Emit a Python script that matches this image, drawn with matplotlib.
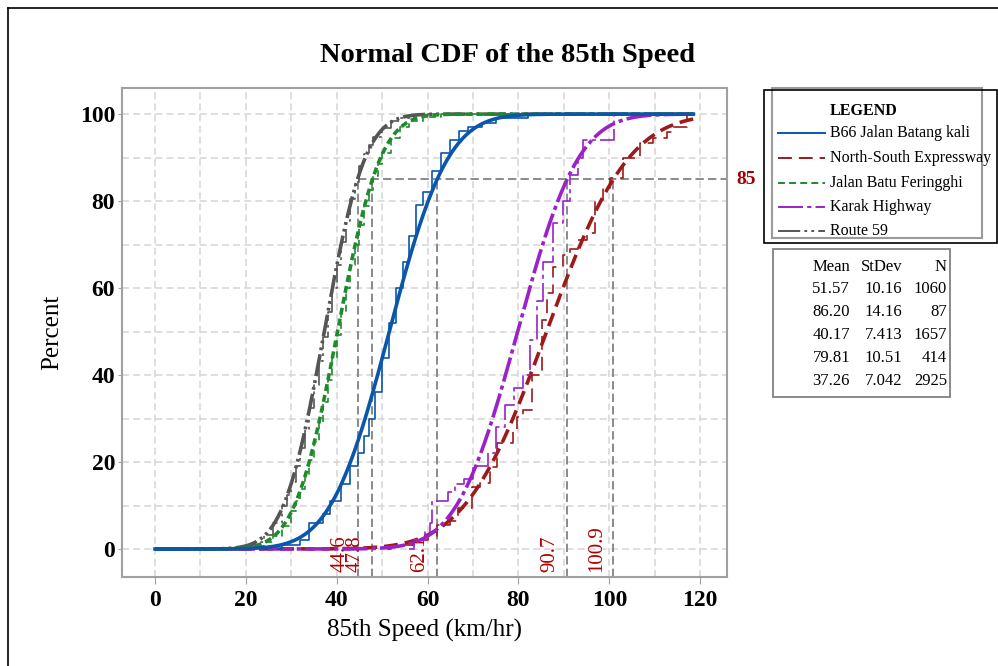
import math
import numpy as np
import matplotlib
matplotlib.use("Agg")
import matplotlib.pyplot as plt
from matplotlib.lines import Line2D
from matplotlib.patches import Rectangle

plt.rcParams['font.family'] = ['Liberation Serif', 'DejaVu Serif']
plt.rcParams['lines.scale_dashes'] = False

# summary table of the fitted normal distributions
roads = ["B66 Jalan Batang kali", "North-South Expressway", "Jalan Batu Feringghi",
         "Karak Highway", "Route 59"]
means = [51.57, 86.20, 40.17, 79.81, 37.26]
stdevs = [10.16, 14.16, 7.413, 10.51, 7.042]
counts = [1060, 87, 1657, 414, 2925]
p85 = [62.1, 100.9, 47.8, 90.7, 44.6]
p85_labels = ["62.1", "100.9", "47.8", "90.7", "44.6"]

emp_b66_x = [28, 32, 34, 37, 38.5, 41, 43, 44.7, 46, 47, 48.5, 50, 51.5, 53, 54.5,
             56, 57.5, 59, 61, 63, 65, 67, 69, 72, 75, 82]
emp_b66_y = [1, 2, 6, 8, 11, 15, 19, 22, 26, 30, 36, 44, 52, 60, 66,
             72, 79, 82, 87, 91, 94, 96, 97, 98, 99, 100]
emp_nse_x = [52, 57, 60, 62, 65, 66.7, 69.8, 71.6, 73.8, 75.3, 78.9, 79.7, 81, 83,
             85.2, 86.3, 87.6, 89.8, 91.3, 93, 95.1, 96.9, 98.6, 100.2, 103, 106.8,
             109.6, 112.7, 114, 117]
emp_nse_y = [1, 2, 3, 5.5, 6.5, 9.4, 14.3, 15.2, 18.9, 24.4, 27.4, 30.3, 32, 40,
             52.6, 58.9, 64.9, 67.6, 69, 71, 72.6, 80.2, 83, 85.3, 89.9, 93.3,
             94.5, 95.9, 97, 100]
emp_jbf_x = [22, 24, 26, 28, 30, 31, 32, 33, 34, 35, 36, 37, 38, 39, 40, 41, 42,
             43, 44, 45, 46, 47, 48, 49, 50, 52, 54, 56, 59, 63]
emp_jbf_y = [0.7, 1.6, 3.0, 5.3, 8.8, 11.0, 13.8, 17.0, 20.5, 24.6, 28.9, 33.8,
             38.8, 44.0, 49.3, 54.8, 60.0, 65.2, 70.0, 74.6, 78.8, 82.6, 85.8,
             88.6, 91.0, 94.6, 97.0, 98.5, 99.4, 100]
emp_karak_x = [57, 59.5, 60.5, 61, 64.5, 66, 68, 70, 73.3, 75, 77, 79, 81, 82.5,
               84, 85.5, 87.5, 89.9, 91.4, 93, 94.2, 101]
emp_karak_y = [2, 4, 6, 11, 13, 15, 16, 19, 22, 28, 33, 37, 40, 48,
               57, 66, 75, 80, 86, 90, 94, 100]
emp_r59_x = [20, 22, 24, 26, 28, 29, 30, 31, 32, 33, 34, 35, 36, 37, 38, 39, 40,
             41, 42, 43, 44, 45, 46, 47, 48, 50, 52, 54, 57, 60]
emp_r59_y = [0.8, 1.7, 3.3, 5.9, 9.8, 12.4, 15.4, 19.0, 23.2, 27.6, 32.5, 37.8,
             43.2, 48.8, 54.5, 60.0, 65.4, 70.6, 75.4, 80.5, 84.5, 88.0, 90.8,
             93.0, 94.8, 96.9, 98.4, 99.2, 99.7, 100]

emp_x = [emp_b66_x, emp_nse_x, emp_jbf_x, emp_karak_x, emp_r59_x]
emp_y = [emp_b66_y, emp_nse_y, emp_jbf_y, emp_karak_y, emp_r59_y]

colors = ["#0a56ab", "#9c1a1a", "#1f8a2c", "#9a22c6", "#555555"]
styles = ["-", (0, (10, 5)), (0, (5, 3)), (0, (18, 3, 3, 3)), (0, (16, 3, 2, 3, 2, 3))]

W, H = 998, 666
fig = plt.figure(figsize=(W / 100, H / 100), dpi=100)


def fx(px):
    return px / W


def fy(py):
    return 1 - py / H


ax = fig.add_axes([fx(122), fy(577), fx(727) - fx(122), fy(88) - fy(577)])
ax.set_xlim(-7.27, 125.9)
ax.set_ylim(-6.44, 106.0)

ax.set_xticks(range(0, 121, 20))
ax.set_yticks(range(0, 101, 20))
ax.set_xticks(range(0, 121, 10), minor=True)
ax.set_yticks(range(0, 101, 10), minor=True)
ax.grid(True, which='both', color='#d4d4d4', linestyle=(0, (5, 3)), linewidth=1.1)
ax.set_axisbelow(True)
for s in ax.spines.values():
    s.set_color('#a0a0a0')
    s.set_linewidth(1.5)
ax.tick_params(which='major', direction='out', length=5, color='#a0a0a0',
               labelsize=17, pad=4)
ax.tick_params(axis='y', which='major', length=3, pad=2)
ax.tick_params(which='minor', length=0)
for lab in ax.get_xticklabels() + ax.get_yticklabels():
    lab.set_fontweight('bold')

# 85th percentile reference lines
ax.plot([min(p85), 125.9], [85, 85], color='#8a8a8a', lw=1.4, linestyle=(0, (6, 3)))
for v, lab in zip(p85, p85_labels):
    ax.plot([v, v], [-6.44, 85], color='#8a8a8a', lw=1.4, linestyle=(0, (6, 3)))
    ax.text(v - 1.7, -5.3, lab, rotation=90, ha='right', va='bottom',
            color='#b00000', fontsize=15)
ax.text(128, 85, "85", color='#a00000', fontsize=14, fontweight='bold',
        va='center', ha='left', clip_on=False)

xs = np.linspace(0, 118.5, 400)
order = [1, 3, 4, 2, 0]
for i in order:
    cdf = [50 * (1 + math.erf((x - means[i]) / (stdevs[i] * math.sqrt(2)))) for x in xs]
    ax.plot(xs, cdf, color=colors[i], lw=2.6, linestyle=styles[i], zorder=3)
    ex = [emp_x[i][0] - 1] + emp_x[i] + [118.5]
    ey = [0] + emp_y[i] + [100]
    ax.step(ex, ey, where='post', color=colors[i], lw=1.2, linestyle=styles[i], zorder=3)

ax.set_xlabel("85th Speed (km/hr)", fontsize=18, labelpad=6)
ax.set_ylabel("Percent", fontsize=18, labelpad=12)
fig.text(fx(508), fy(55), "Normal CDF of the 85th Speed", fontsize=20.5,
         fontweight='bold', ha='center', va='center')

# outer frame
fig.add_artist(Line2D([fx(8), fx(998)], [fy(8), fy(8)], color='black', lw=1.2))
fig.add_artist(Line2D([fx(8), fx(8)], [fy(8), fy(666)], color='black', lw=1.2))

# legend box
fig.add_artist(Rectangle((fx(772), fy(238)), fx(982) - fx(772), fy(88) - fy(238),
                         fill=False, edgecolor='#9a9a9a', lw=1.5))
fig.add_artist(Rectangle((fx(764), fy(243)), fx(997) - fx(764), fy(90) - fy(243),
                         fill=False, edgecolor='black', lw=1.2))
fig.text(fx(830), fy(111), "LEGEND", fontsize=11.5, fontweight='bold', va='center')
leg_rows = [133, 158, 183, 207, 231]
for i, py in enumerate(leg_rows):
    fig.add_artist(Line2D([fx(778), fx(825)], [fy(py), fy(py)], color=colors[i],
                          lw=1.4, linestyle=styles[i]))
    fig.text(fx(830), fy(py), roads[i], fontsize=11.5, va='center')

# summary table box
fig.add_artist(Rectangle((fx(773), fy(397)), fx(950) - fx(773), fy(249) - fy(397),
                         fill=False, edgecolor='#808080', lw=1.3))
tab_rows = [267, 289, 312, 335, 358, 381]
fs = 12
fig.text(fx(850), fy(tab_rows[0]), "Mean", fontsize=fs, ha='right', va='center')
fig.text(fx(902), fy(tab_rows[0]), "StDev", fontsize=fs, ha='right', va='center')
fig.text(fx(947), fy(tab_rows[0]), "N", fontsize=fs, ha='right', va='center')
for i in range(5):
    py = tab_rows[i + 1]
    fig.text(fx(850), fy(py), f"{means[i]:.2f}", fontsize=fs, ha='right', va='center')
    sd = f"{stdevs[i]:.3f}" if stdevs[i] < 10 else f"{stdevs[i]:.2f}"
    fig.text(fx(902), fy(py), sd, fontsize=fs, ha='right', va='center')
    fig.text(fx(947), fy(py), str(counts[i]), fontsize=fs, ha='right', va='center')

fig.savefig("out.png", dpi=100)
